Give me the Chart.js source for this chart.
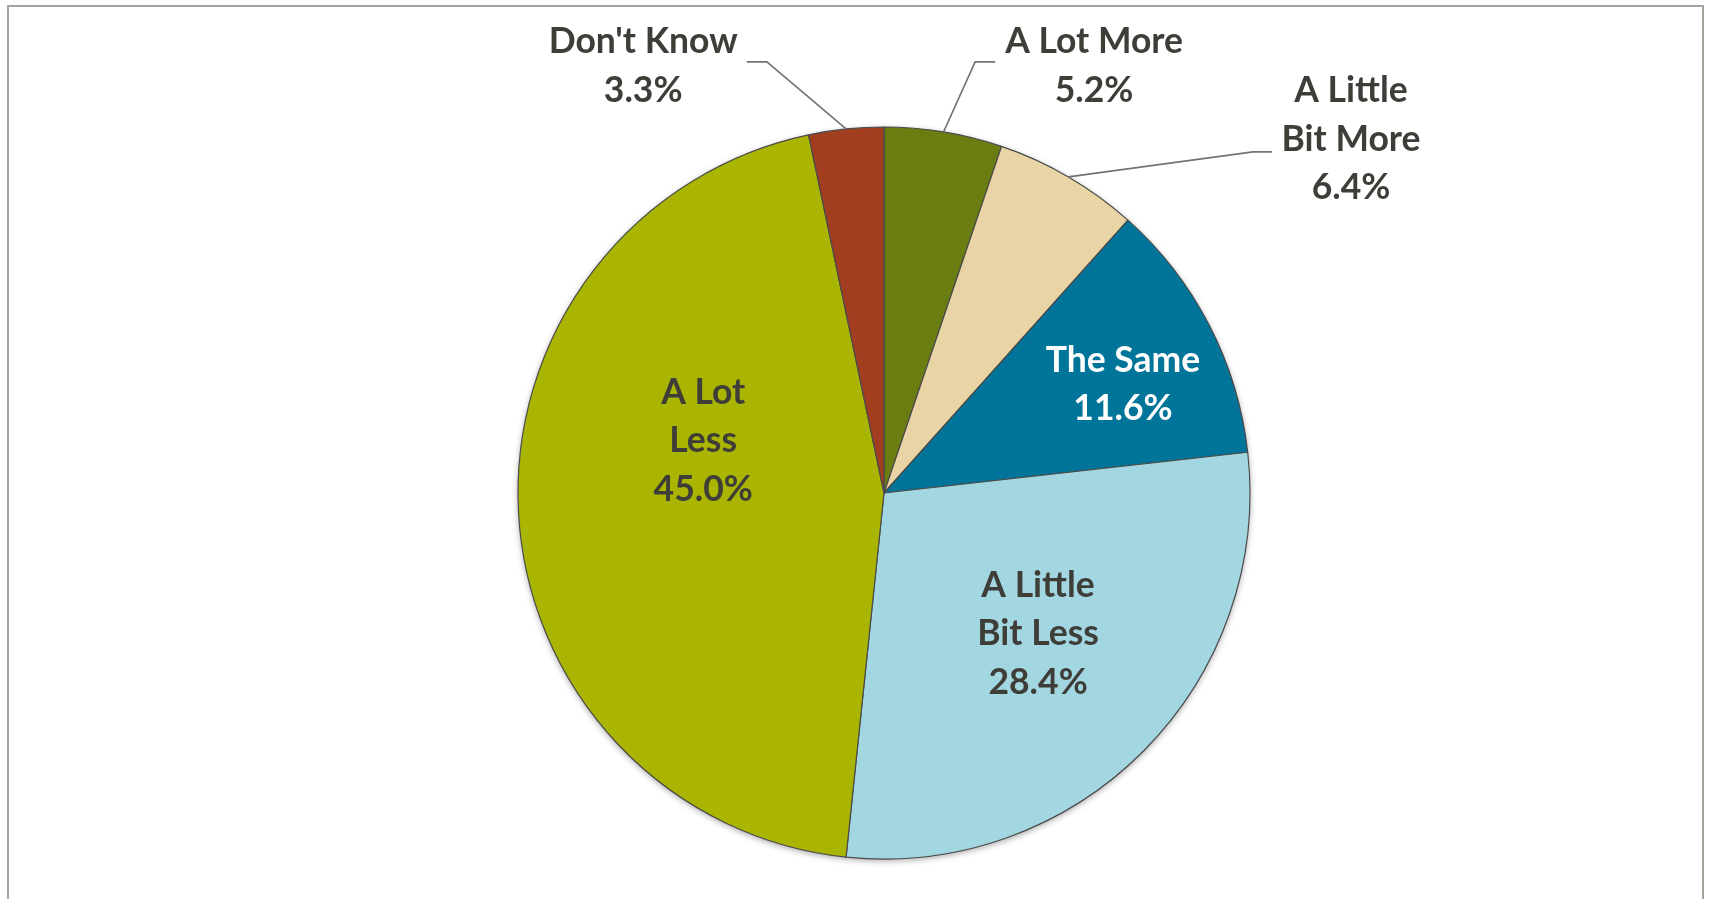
<!DOCTYPE html>
<html>
<head>
<meta charset="utf-8">
<script src="https://cdn.jsdelivr.net/npm/chart.js@4/dist/chart.umd.min.js"></script>
<style>
  html, body { margin: 0; padding: 0; background: #ffffff; overflow: hidden; }
  #frame { position: absolute; left: 7px; top: 5px; width: 1697px; height: 1000px;
           border: 2px solid #a4a49c; border-bottom: none; box-sizing: border-box; }
  #wrap { position: absolute; left: 0; top: 0; width: 1709px; height: 899px; }
</style>
</head>
<body>
<div id="frame"></div>
<div id="wrap"><canvas id="c" width="1709" height="899"></canvas></div>
<script>
// ---- data ----
const categories = ["A Lot More", "A Little Bit More", "The Same", "A Little Bit Less", "A Lot Less", "Don't Know"];
const values = [5.2, 6.4, 11.6, 28.4, 45.0, 3.3];
const labelLines = [["A Lot More"], ["A Little", "Bit More"], ["The Same"], ["A Little", "Bit Less"], ["A Lot", "Less"], ["Don't Know"]];
const valueLabels = ["5.2%", "6.4%", "11.6%", "28.4%", "45.0%", "3.3%"];

// ---- styles ----
const colors = ["#6a7d11", "#e8d4a4", "#007499", "#a2d7e1", "#a9b500", "#a23d1f"];
const textColors = ["#3f3d38", "#3f3d38", "#ffffff", "#3f3d38", "#3f3d38", "#3f3d38"];
// label centre as fraction of radius from pie centre
const labelPos = [[0.574, -1.166], [1.276, -0.966], [0.653, -0.296], [0.421, 0.385], [-0.494, -0.142], [-0.658, -1.166]];
// leader elbow (fraction of radius) and horizontal tail length in px (null = no leader)
const leaderElbow = [[0.249, -1.178, 20], [1.008, -0.932, 19], null, null, null, [-0.320, -1.178, -20]];
const FONT = 'bold 35.5px Lato, "Open Sans", sans-serif';
const LINE_H = 48.5;

const labelPlugin = {
  id: 'labels',
  beforeDatasetsDraw(chart) {
    const arc = chart.getDatasetMeta(0).data[0];
    if (!arc) return;
    const ctx = chart.ctx;
    ctx.save();
    ctx.shadowColor = 'rgba(0,0,0,0.35)';
    ctx.shadowBlur = 6;
    ctx.shadowOffsetY = 2;
    ctx.beginPath();
    ctx.arc(arc.x, arc.y, arc.outerRadius, 0, Math.PI * 2);
    ctx.fillStyle = '#ffffff';
    ctx.fill();
    ctx.restore();
  },
  afterDatasetsDraw(chart) {
    const ctx = chart.ctx;
    const meta = chart.getDatasetMeta(0);
    ctx.save();
    meta.data.forEach((a, i) => {
      const r = a.outerRadius;
      const cx = a.x, cy = a.y;
      const le = leaderElbow[i];
      if (le) {
        const mid = (a.startAngle + a.endAngle) / 2;
        const sx = cx + Math.cos(mid) * r, sy = cy + Math.sin(mid) * r;
        const ex = cx + le[0] * r, ey = cy + le[1] * r;
        ctx.beginPath();
        ctx.moveTo(sx, sy);
        ctx.lineTo(ex, ey);
        ctx.lineTo(ex + le[2], ey);
        ctx.strokeStyle = '#737373';
        ctx.lineWidth = 1.6;
        ctx.stroke();
      }
      const lines = labelLines[i].concat([valueLabels[i]]);
      const lx = cx + labelPos[i][0] * r;
      const ly = cy + labelPos[i][1] * r;
      ctx.font = FONT;
      ctx.fillStyle = textColors[i];
      ctx.textAlign = 'center';
      ctx.textBaseline = 'middle';
      const top = ly - (lines.length - 1) * LINE_H / 2;
      lines.forEach((t, k) => ctx.fillText(t, lx, top + k * LINE_H));
    });
    ctx.restore();
  }
};

new Chart(document.getElementById('c'), {
  type: 'pie',
  data: {
    labels: categories,
    datasets: [{
      data: values,
      backgroundColor: colors,
      borderColor: '#4a4a4a',
      borderWidth: 1.2,
      radius: 366
    }]
  },
  options: {
    responsive: false,
    animation: false,
    layout: { padding: { left: 59, right: 0, top: 87, bottom: 0 } },
    plugins: { legend: { display: false }, tooltip: { enabled: false } }
  },
  plugins: [labelPlugin]
});
</script>
</body>
</html>
